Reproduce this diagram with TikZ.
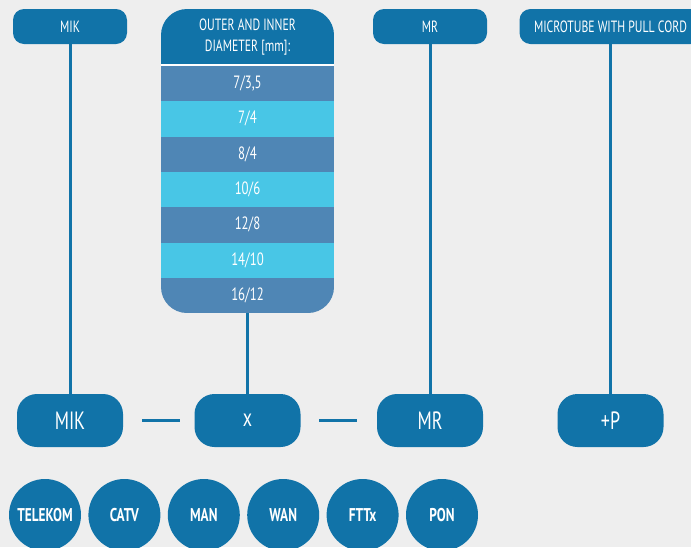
\documentclass[tikz,border=0pt]{standalone}
\usepackage{fontspec}
\setmainfont{PT Sans}[FakeStretch=0.72]
\definecolor{tubeblue}{RGB}{17,115,168}
\definecolor{rowdark}{RGB}{79,134,181}
\definecolor{rowlight}{RGB}{72,198,230}
\definecolor{paper}{RGB}{238,238,238}
\tikzset{
	toplabel/.style={fill=tubeblue, text=white, rounded corners=11pt, minimum height=35pt, inner sep=0pt, font=\fontsize{16.3}{18}\selectfont},
	bigbox/.style={fill=tubeblue, text=white, rounded corners=20pt, minimum width=106pt, minimum height=53pt, inner sep=0pt, font=\fontsize{25}{27}\selectfont},
	net/.style={circle, fill=tubeblue, text=white, minimum size=72pt, inner sep=0pt, font=\bfseries\fontsize{18.5}{20}\selectfont},
	rowtext/.style={text=white, inner sep=0pt, font=\fontsize{17.8}{20}\selectfont},
	link/.style={draw=tubeblue, line width=3pt}
}

\begin{document}
\begin{tikzpicture}[x=1pt, y=-1pt]
			%%%%% START %%%%%
			
			\fill[paper] (0,0) rectangle (691,547);
			\useasboundingbox (0,0) rectangle (691,547);
			
			% diameter table
			\begin{scope}
				\clip[rounded corners=26pt] (161,9) rectangle (334,313);
				\fill[tubeblue] (161,9) rectangle (334,64);
				\fill[white] (161,64) rectangle (334,66);
				\foreach \val [count=\i] in {{7/3,5},7/4,8/4,10/6,12/8,14/10,16/12} {
					\pgfmathsetmacro{\top}{66+35.3*(\i-1)}
					\ifodd\i \def\rowcol{rowdark}\else \def\rowcol{rowlight}\fi
					\fill[\rowcol] (161,\top) rectangle (334,\top+35.5);
					\node[rowtext] (row\i) at (247.5,\top+17.6) {\val};
				}
			\end{scope}
			\node[text=white, align=center, font=\fontsize{16.3}{21}\selectfont] (header) at (247.5,37) {OUTER AND INNER\\DIAMETER [mm]:};
			\node[minimum width=173pt, minimum height=304pt, inner sep=0pt] (table) at (247.5,161) {};
			
			% labels on top
			\node[toplabel, minimum width=114pt] (miklabel) at (70,26.5) {MIK};
			\node[toplabel, minimum width=114pt] (mrlabel) at (430,26.5) {MR};
			\node[toplabel, minimum width=182pt] (cordlabel) at (610.5,26.5) {MICROTUBE WITH PULL CORD};
			
			% code boxes
			\node[bigbox] (mikbox) at (70,420.5) {MIK};
			\node[bigbox] (xbox) at (247.5,420.5) {x};
			\node[bigbox] (mrbox) at (430,420.5) {MR};
			\node[bigbox] (pbox) at (610.5,420.5) {+P};
			
			\draw[link] (miklabel) -- (mikbox);
			\draw[link] (table) -- (xbox);
			\draw[link] (mrlabel) -- (mrbox);
			\draw[link] (cordlabel) -- (pbox);
			
			\draw[link, shorten <=19pt, shorten >=14.5pt] (mikbox) -- (xbox);
			\draw[link, shorten <=18.5pt, shorten >=19.5pt] (xbox) -- (mrbox);
			
			% networks
			\foreach \name [count=\i] in {TELEKOM,CATV,MAN,WAN,FTTx,PON}
				\node[net] (net\i) at ({45+79.4*(\i-1)},515) {\name};
			
			%%%%% END %%%%%
\end{tikzpicture}
\end{document}
